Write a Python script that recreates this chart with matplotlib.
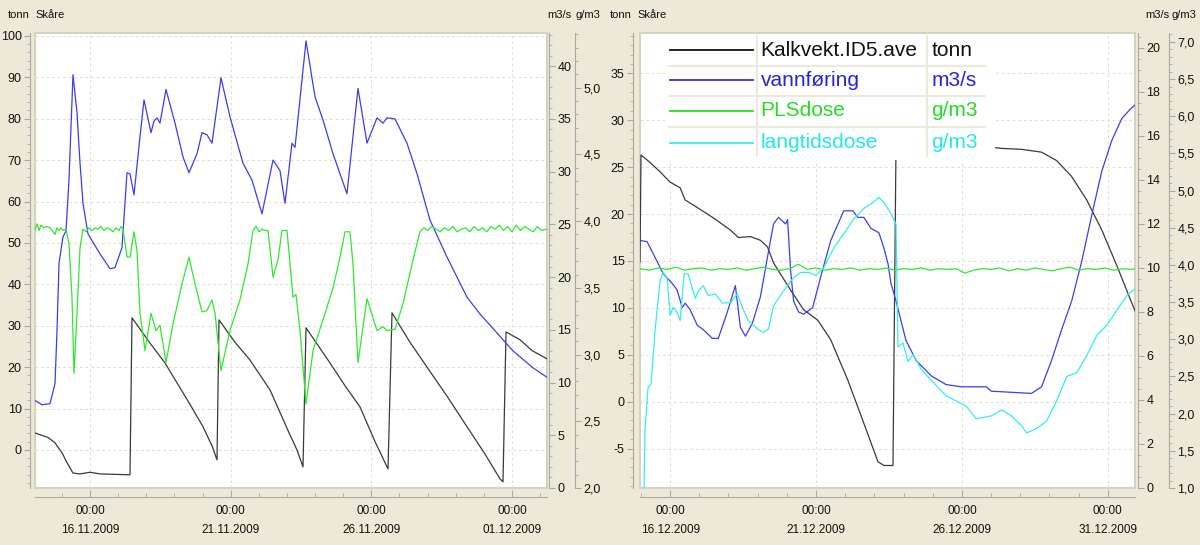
import datetime as dt
import matplotlib
matplotlib.use("Agg")
import matplotlib.pyplot as plt
import matplotlib.dates as mdates
from matplotlib import font_manager
from matplotlib.ticker import MultipleLocator, FuncFormatter, FixedLocator
from matplotlib.patches import Rectangle

# ---------------- left panel: November 2009 (days after 16.11.2009 00:00) ----------------
nov_base = dt.datetime(2009, 11, 16)
nov_ticks = ["16.11.2009", "21.11.2009", "26.11.2009", "01.12.2009"]

nov_kalk_t = [-1.955, -1.493, -1.244, -0.995, -0.782, -0.604, -0.355, 0.0, 0.355, 1.351,
              1.422, 1.493, 2.133, 2.666, 3.093, 3.555, 4.017, 4.337, 4.515, 4.586,
              5.155, 5.688, 6.399, 7.110, 7.359, 7.572, 7.679, 8.532, 9.065, 9.598,
              10.132, 10.594, 10.736, 11.376, 11.980, 12.691, 13.402, 14.042, 14.575, 14.682,
              14.789, 15.286, 15.713, 16.246]
nov_kalk = [4.1, 3.0, 1.7, -0.7, -3.5, -5.6, -5.8, -5.4, -5.8, -6.0,
            -6.0, 31.9, 25.8, 21.0, 16.2, 11.0, 5.6, 1.0, -2.4, 31.4,
            26.0, 21.7, 14.5, 3.6, 0.0, -4.1, 29.5, 21.0, 15.5, 10.4,
            2.0, -4.6, 33.1, 26.0, 20.0, 13.0, 5.6, -1.0, -7.0, -7.7,
            28.5, 26.6, 24.0, 22.0]

nov_flow_t = [-1.955, -1.706, -1.422, -1.244, -1.173, -1.102, -0.960, -0.853, -0.747, -0.604,
              -0.462, -0.355, -0.249, -0.071, 0.355, 0.711, 0.889, 1.138, 1.315, 1.422,
              1.564, 1.777, 1.920, 2.169, 2.275, 2.382, 2.488, 2.702, 3.022, 3.306,
              3.519, 3.804, 3.982, 4.159, 4.337, 4.657, 4.977, 5.439, 5.759, 6.114,
              6.506, 6.754, 6.932, 7.181, 7.288, 7.679, 7.999, 8.283, 8.639, 8.887,
              9.136, 9.527, 9.847, 10.203, 10.416, 10.558, 10.843, 11.269, 11.625, 12.087,
              12.691, 13.402, 13.864, 14.469, 15.037, 15.748, 16.246]
nov_flow = [8.3, 7.9, 8.0, 9.9, 14.9, 21.3, 23.8, 24.4, 29.2, 39.2,
            35.6, 30.8, 27.0, 24.1, 22.2, 20.8, 20.9, 22.8, 29.9, 29.8,
            27.8, 33.3, 36.8, 33.7, 34.8, 35.1, 34.6, 37.8, 34.6, 31.4,
            29.9, 31.7, 33.7, 33.5, 32.7, 38.9, 35.2, 30.8, 29.2, 26.0,
            31.1, 30.1, 27.0, 32.7, 32.3, 42.4, 37.1, 34.9, 31.7, 29.8,
            27.9, 37.9, 32.7, 35.1, 34.6, 35.1, 35.0, 32.7, 29.8, 25.4,
            21.9, 18.1, 16.5, 14.7, 13.0, 11.4, 10.5]

nov_pls_t = [-1.955, -1.884, -1.813, -1.742, -1.635, -1.529, -1.422, -1.315, -1.244, -1.173,
             -1.102, -1.031, -0.960, -0.853, -0.747, -0.640, -0.569, -0.462, -0.355, -0.249,
             -0.142, -0.036, 0.071, 0.178, 0.284, 0.391, 0.498, 0.604, 0.711, 0.818,
             0.924, 1.031, 1.102, 1.173, 1.315, 1.422, 1.564, 1.671, 1.777, 1.955,
             2.169, 2.346, 2.488, 2.702, 2.951, 3.271, 3.519, 3.733, 3.982, 4.159,
             4.337, 4.444, 4.657, 4.977, 5.332, 5.617, 5.795, 5.901, 6.008, 6.114,
             6.221, 6.328, 6.506, 6.683, 6.825, 7.003, 7.217, 7.323, 7.465, 7.679,
             7.928, 8.283, 8.639, 8.887, 9.065, 9.243, 9.349, 9.527, 9.847, 10.203,
             10.416, 10.558, 10.843, 11.127, 11.482, 11.731,
             11.87, 12.0, 12.15, 12.3, 12.45, 12.6, 12.75, 12.9, 13.05, 13.2,
             13.35, 13.5, 13.65, 13.8, 13.95, 14.1, 14.25, 14.4, 14.55, 14.7,
             14.85, 15.0, 15.15, 15.3, 15.45, 15.6, 15.75, 15.9, 16.05, 16.246]
nov_pls = [3.93, 3.98, 3.93, 3.97, 3.95, 3.96, 3.95, 3.92, 3.90, 3.95,
           3.93, 3.95, 3.93, 3.94, 3.83, 3.43, 2.86, 3.31, 3.80, 3.94,
           3.92, 3.95, 3.93, 3.95, 3.94, 3.96, 3.93, 3.95, 3.94, 3.92,
           3.95, 3.93, 3.96, 3.94, 3.73, 3.73, 3.92, 3.78, 3.31, 3.03,
           3.31, 3.18, 3.22, 2.94, 3.23, 3.53, 3.73, 3.53, 3.32, 3.33,
           3.41, 3.31, 2.88, 3.18, 3.41, 3.68, 3.93, 3.96, 3.92, 3.94,
           3.93, 3.93, 3.58, 3.71, 3.93, 3.93, 3.43, 3.45, 3.18, 2.63,
           3.03, 3.26, 3.50, 3.73, 3.92, 3.92, 3.68, 2.94, 3.42, 3.18,
           3.21, 3.18, 3.19, 3.38, 3.71, 3.92,
           3.95, 3.93, 3.96, 3.94, 3.92, 3.95, 3.93, 3.96, 3.92, 3.94,
           3.95, 3.92, 3.96, 3.93, 3.95, 3.92, 3.96, 3.94, 3.97, 3.93,
           3.96, 3.92, 3.97, 3.93, 3.96, 3.94, 3.92, 3.96, 3.93, 3.94]

# ---------------- right panel: December 2009 (days after 16.12.2009 00:00) ----------------
dec_base = dt.datetime(2009, 12, 16)
dec_ticks = ["16.12.2009", "21.12.2009", "26.12.2009", "31.12.2009"]

dec_kalk_t = [-1.032, -0.998, -0.688, -0.344, 0.0, 0.344, 0.516, 0.929, 1.479, 2.064,
              2.339, 2.752, 3.096, 3.337, 3.543, 4.128, 4.575, 5.057, 5.504, 6.089,
              6.639, 7.121, 7.327, 7.637, 7.740, 7.912, 10.836, 11.352, 12.040, 12.728,
              13.244, 13.760, 14.276, 14.792, 15.308, 15.927]
dec_kalk = [14.9, 26.3, 25.5, 24.5, 23.4, 22.8, 21.5, 20.7, 19.6, 18.3,
            17.5, 17.6, 17.2, 16.5, 14.8, 11.9, 9.8, 8.7, 6.6, 2.3,
            -2.3, -6.4, -6.8, -6.8, 27.2, 27.3, 27.2, 27.0, 26.9, 26.6,
            25.7, 24.0, 21.5, 18.3, 14.5, 9.7]

dec_flow_t = [-1.032, -0.791, -0.447, -0.241, 0.069, 0.241, 0.413, 0.516, 0.688, 0.929,
              1.135, 1.445, 1.651, 1.961, 2.236, 2.408, 2.580, 2.821, 3.096, 3.337,
              3.543, 3.715, 3.956, 4.025, 4.128, 4.231, 4.403, 4.575, 4.885, 5.160,
              5.504, 5.951, 6.261, 6.433, 6.639, 6.880, 7.155, 7.327, 7.465, 7.568,
              7.740, 7.912, 8.084, 8.428, 8.944, 9.460, 9.976, 10.836, 11.008, 12.384,
              12.728, 13.072, 13.416, 13.760, 14.104, 14.448, 14.792, 15.136, 15.480, 15.755,
              15.927]
dec_flow = [11.25, 11.2, 10.3, 9.75, 9.3, 9.0, 8.2, 8.4, 8.1, 7.4,
            7.2, 6.8, 6.8, 8.0, 9.2, 7.3, 6.9, 7.5, 8.7, 10.5,
            12.0, 12.3, 12.0, 12.2, 9.9, 8.5, 8.0, 7.9, 8.2, 9.6,
            11.25, 12.6, 12.6, 12.3, 12.3, 11.8, 11.6, 10.9, 10.2, 9.3,
            8.5, 7.6, 6.7, 5.8, 5.1, 4.7, 4.6, 4.6, 4.4, 4.3,
            4.6, 5.8, 7.2, 8.5, 10.3, 12.4, 14.4, 15.8, 16.8, 17.2,
            17.4]

dec_pls_t = [-1.03, -0.7, -0.4, -0.1, 0.2, 0.5, 0.8, 1.1, 1.4, 1.7,
             2.0, 2.3, 2.6, 2.9, 3.2, 3.5, 3.8, 4.1, 4.4, 4.7,
             5.0, 5.3, 5.6, 5.9, 6.2, 6.5, 6.8, 7.1, 7.4, 7.7,
             8.0, 8.3, 8.6, 8.9, 9.2, 9.5, 9.8, 10.1, 10.4, 10.7,
             11.0, 11.3, 11.6, 11.9, 12.2, 12.5, 12.8, 13.1, 13.4, 13.7,
             14.0, 14.3, 14.6, 14.9, 15.2, 15.5, 15.8, 15.93]
dec_pls = [3.95, 3.93, 3.96, 3.94, 3.97, 3.93, 3.95, 3.96, 3.93, 3.95,
           3.94, 3.96, 3.93, 3.95, 3.97, 3.94, 3.93, 3.95, 4.01, 3.94,
           3.96, 3.93, 3.95, 3.94, 3.96, 3.93, 3.95, 3.94, 3.96, 3.93,
           3.95, 3.94, 3.96, 3.93, 3.95, 3.94, 3.95, 3.89, 3.93, 3.95,
           3.94, 3.96, 3.92, 3.95, 3.93, 3.96, 3.94, 3.92, 3.95, 3.97,
           3.93, 3.95, 3.94, 3.96, 3.93, 3.95, 3.94, 3.95]

dec_long_t = [-0.894, -0.860, -0.757, -0.654, -0.516, -0.344, -0.241, -0.103, 0.0, 0.103,
              0.241, 0.344, 0.482, 0.619, 0.860, 0.963, 1.135, 1.307, 1.548, 1.789,
              2.064, 2.305, 2.477, 2.683, 2.993, 3.199, 3.371, 3.543, 3.887, 4.231,
              4.472, 4.747, 4.988, 5.263, 5.607, 5.951, 6.295, 6.639, 6.949, 7.155,
              7.327, 7.568, 7.740, 7.809, 7.981, 8.153, 8.325, 8.600, 8.944, 9.460,
              9.804, 10.148, 10.492, 11.008, 11.352, 11.696, 12.040, 12.212, 12.556, 12.900,
              13.244, 13.588, 13.932, 14.276, 14.620, 14.964, 15.308, 15.652, 15.927]
dec_long = [1.0, 1.77, 2.35, 2.40, 3.12, 3.79, 3.90, 3.83, 3.32, 3.43,
            3.36, 3.25, 3.88, 3.88, 3.55, 3.65, 3.72, 3.59, 3.61, 3.49,
            3.49, 3.61, 3.43, 3.25, 3.14, 3.09, 3.14, 3.45, 3.65, 3.83,
            3.90, 3.90, 3.86, 3.96, 4.23, 4.42, 4.62, 4.76, 4.84, 4.91,
            4.84, 4.69, 4.55, 2.90, 2.95, 2.70, 2.80, 2.60, 2.45, 2.24,
            2.17, 2.10, 1.93, 1.97, 2.05, 1.97, 1.84, 1.74, 1.80, 1.90,
            2.17, 2.50, 2.55, 2.78, 3.05, 3.19, 3.39, 3.59, 3.68]

leg_names = ["Kalkvekt.ID5.ave", "vannføring", "PLSdose", "langtidsdose"]
leg_units = ["tonn", "m3/s", "g/m3", "g/m3"]

# colours
BG = "#ECE9D8"
C_KALK = "#3a3a3a"
C_FLOW = "#3c3cf4"
C_PLS = "#2fe82f"
C_LONG = "#33eeee"
LEG_TXT = ["#111111", "#2424e0", "#22dd22", "#22e8e8"]
LEG_LINE = ["#111111", "#3030f0", "#22dd22", "#33eeee"]
AXC = "#a8a8a8"
GRIDC = "#e2dfcf"

names = {f.name for f in font_manager.fontManager.ttflist}
FONT = "Liberation Sans Narrow" if "Liberation Sans Narrow" in names else "Liberation Sans"
plt.rcParams["font.family"] = [FONT, "DejaVu Sans"]
TS = 8.5

W, H = 1200, 545
fig = plt.figure(figsize=(W / 100, H / 100), dpi=100, facecolor=BG)

comma = FuncFormatter(lambda v, p: f"{v:.1f}".replace(".", ","))
intfmt = FuncFormatter(lambda v, p: f"{v:.0f}")


def px(v):
    # pixels -> points at 100 dpi
    return v * 0.72


def panel(rect, base, ticks, lines, tonn, flow, dose, outs):
    ax = fig.add_axes(rect)
    ax.set_facecolor("white")
    ax.patch.set_edgecolor("#d6d2c0")
    ax.patch.set_linewidth(1.5)
    axq = ax.twinx()
    axd = ax.twinx()
    b = mdates.date2num(base)
    lo, hi = 1e9, -1e9
    for key, ts, vs, col in lines:
        target = {"t": ax, "q": axq, "d": axd}[key]
        xs = [b + t for t in ts]
        target.plot(xs, vs, color=col, lw=0.9)
        lo, hi = min(lo, xs[0]), max(hi, xs[-1])
    ax.set_xlim(lo, hi)

    for a, (lim, major, minor, fmt) in zip((ax, axq, axd), (tonn, flow, dose)):
        a.set_ylim(*lim)
        a.yaxis.set_major_locator(MultipleLocator(major))
        a.yaxis.set_minor_locator(MultipleLocator(minor))
        a.yaxis.set_major_formatter(fmt)
        for s in a.spines.values():
            s.set_visible(False)
            s.set_color(AXC)
        a.tick_params(axis="y", which="major", length=4, width=0.8, color=AXC,
                      labelsize=TS + 0.5, pad=2, labelcolor="#111111")
        a.tick_params(axis="y", which="minor", length=2, width=0.6, color=AXC)

    ax.spines["left"].set_visible(True)
    ax.spines["left"].set_position(("outward", px(outs[0])))
    ax.spines["bottom"].set_visible(True)
    ax.spines["bottom"].set_position(("outward", px(outs[3])))
    axq.spines["right"].set_visible(True)
    axq.spines["right"].set_position(("outward", px(outs[1])))
    axd.spines["right"].set_visible(True)
    axd.spines["right"].set_position(("outward", px(outs[2])))

    tick_nums = [mdates.date2num(dt.datetime.strptime(s, "%d.%m.%Y")) for s in ticks]
    ax.xaxis.set_major_locator(FixedLocator(tick_nums))
    ax.xaxis.set_major_formatter(mdates.DateFormatter("%H:%M\n%d.%m.%Y"))
    ax.xaxis.set_minor_locator(mdates.DayLocator())
    ax.tick_params(axis="x", which="major", direction="in", length=5, width=0.8,
                   color=AXC, labelsize=TS, pad=6, labelcolor="#111111")
    ax.tick_params(axis="x", which="minor", direction="in", length=3, width=0.6, color=AXC)
    for lbl in ax.get_xticklabels():
        lbl.set_linespacing(1.75)

    ax.set_axisbelow(True)
    ax.grid(True, which="major", color=GRIDC, ls=(0, (2.5, 2.5)), lw=0.8)
    return ax


panel([35 / W, 57 / H, 512 / W, 455 / H], nov_base, nov_ticks,
      [("t", nov_kalk_t, nov_kalk, C_KALK),
       ("q", nov_flow_t, nov_flow, C_FLOW),
       ("d", nov_pls_t, nov_pls, C_PLS)],
      ((-9.2, 100.7), 10, 2, intfmt),
      ((0, 43.15), 5, 1, intfmt),
      ((2.0, 5.41), 0.5, 0.1, comma),
      (5, 2, 28, 9))

panel([640 / W, 57 / H, 495 / W, 455 / H], dec_base, dec_ticks,
      [("t", dec_kalk_t, dec_kalk, C_KALK),
       ("q", dec_flow_t, dec_flow, C_FLOW),
       ("d", dec_pls_t, dec_pls, C_PLS),
       ("d", dec_long_t, dec_long, C_LONG)],
      ((-9.2, 39.3), 5, 1, intfmt),
      ((0, 20.68), 2, 0.5, intfmt),
      ((1.0, 7.12), 0.5, 0.1, comma),
      (7, 3, 34, 9))

# axis headers
hdr = dict(fontsize=8, color="#111111", va="center")
fig.text(8 / W, 1 - 15 / H, "tonn", **hdr)
fig.text(35 / W, 1 - 15 / H, "Skåre", **hdr)
fig.text(547 / W, 1 - 15 / H, "m3/s", **hdr)
fig.text(575 / W, 1 - 15 / H, "g/m3", **hdr)
fig.text(610 / W, 1 - 15 / H, "tonn", **hdr)
fig.text(637 / W, 1 - 15 / H, "Skåre", **hdr)
fig.text(1145 / W, 1 - 15 / H, "m3/s", **hdr)
fig.text(1172 / W, 1 - 15 / H, "g/m3", **hdr)

# legend table in the right panel
leg = fig.add_axes([668 / W, 1 - 160 / H, 327 / W, 125 / H], zorder=10)
leg.set_xlim(0, 1)
leg.set_ylim(0, 1)
leg.axis("off")
leg.add_patch(Rectangle((0, 0), 1, 1, facecolor="white", edgecolor="none"))
rows_y = [0.88, 0.64, 0.392, 0.136]
for y in [0.752, 0.512, 0.264]:
    leg.plot([0.0, 0.97], [y, y], color=BG, lw=1.5)
leg.plot([0.272, 0.272], [0.03, 1.0], color=BG, lw=1.5)
leg.plot([0.792, 0.792], [0.03, 1.0], color=BG, lw=1.5)
for y, name, unit, tc, lc in zip(rows_y, leg_names, leg_units, LEG_TXT, LEG_LINE):
    leg.plot([0.006, 0.26], [y, y], color=lc, lw=1.3)
    leg.text(0.283, y, name, color=tc, fontsize=15, va="center", family="Liberation Sans")
    leg.text(0.805, y, unit, color=tc, fontsize=15, va="center", family="Liberation Sans")

fig.savefig("out.png", dpi=100, facecolor=BG)
